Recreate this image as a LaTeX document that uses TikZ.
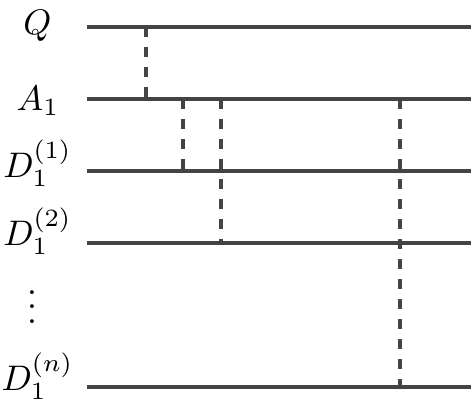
\documentclass[tikz,border=0pt]{standalone}
\definecolor{wire}{RGB}{68,68,68}
\tikzset{
  wireline/.style={draw=wire, line width=3.4pt},
  link/.style={draw=wire, line width=3.4pt, dash pattern=on 10pt off 10pt},
  lab/.style={anchor=base, inner sep=0pt, scale=3.55}
}
\begin{document}
\begin{tikzpicture}[x=1pt,y=-1pt]
\useasboundingbox (0,0) rectangle (473,412);
% labels
\node[lab] (lQ) at (37.5,35) {$Q$};
\node[lab] (lA) at (38,110) {$A_1$};
\node[lab] (lD1) at (37.5,177) {$D_1^{(1)}$};
\node[lab] (lD2) at (37.5,245) {$D_1^{(2)}$};
\node[lab] (ldots) at (32,323) {$\vdots$};
\node[lab] (lDn) at (37.5,390) {$D_1^{(n)}$};
% wire ends
\coordinate (Qs) at (87,27);  \coordinate (Qe) at (471,27);
\coordinate (As) at (87,99);  \coordinate (Ae) at (471,99);
\coordinate (D1s) at (87,171); \coordinate (D1e) at (471,171);
\coordinate (D2s) at (87,243); \coordinate (D2e) at (471,243);
\coordinate (Dns) at (87,387); \coordinate (Dne) at (471,387);
\draw[wireline] (Qs) -- (Qe);
\draw[wireline] (As) -- (Ae);
\draw[wireline] (D1s) -- (D1e);
\draw[wireline] (D2s) -- (D2e);
\draw[wireline] (Dns) -- (Dne);
% link points
\coordinate (q1) at (146,27);  \coordinate (a1) at (146,99);
\coordinate (a2) at (183,99);  \coordinate (d12) at (183,171);
\coordinate (a3) at (221,99);  \coordinate (d23) at (221,243);
\coordinate (a4) at (400,99);  \coordinate (dn4) at (400,387);
\draw[link] (q1) -- (a1);
\draw[link] (a2) -- (d12);
\draw[link] (a3) -- (d23);
\draw[link] (a4) -- (dn4);
\end{tikzpicture}
\end{document}
